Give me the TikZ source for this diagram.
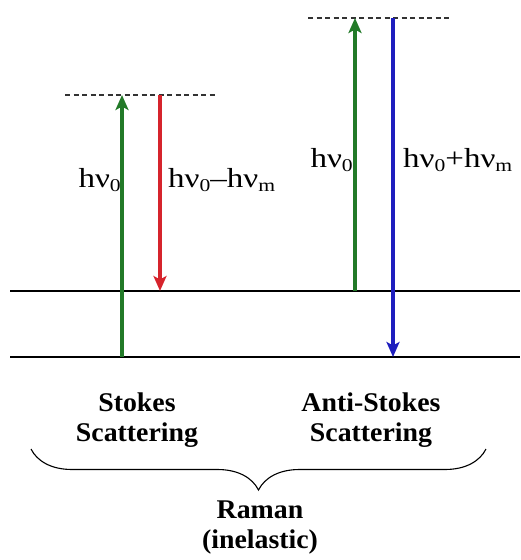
\documentclass[tikz,border=0pt]{standalone}
\usepackage{fontspec}
\setmainfont{Liberation Serif}
\usetikzlibrary{arrows.meta,decorations.pathreplacing}
\definecolor{agreen}{RGB}{34,122,40}
\definecolor{ared}{RGB}{214,36,44}
\definecolor{ablue}{RGB}{30,30,190}
\newcommand\lsub[1]{\raisebox{-0.35ex}{\fontsize{18}{18}\selectfont #1}}
\tikzset{
  level/.style={line width=2.4pt,black},
  virt/.style={line width=1.1pt,dash pattern=on 5pt off 3.5pt,black!80},
  photon/.style={line width=3.2pt,-{Stealth[length=15pt,width=13pt,inset=3.5pt]}},
  elabel/.style={font=\fontsize{27.5}{27.5}\selectfont,inner sep=0pt,xscale=1.2},
  title/.style={font=\fontsize{27}{30}\selectfont\bfseries,align=center,inner sep=0pt,xscale=1.03},
}
\begin{document}
\begin{tikzpicture}[x=1pt,y=-1pt]
\useasboundingbox (0,0) rectangle (520,560);
% levels
\coordinate (g0l) at (10,291); \coordinate (g0r) at (520,291);
\coordinate (g1l) at (10,357); \coordinate (g1r) at (520,357);
\draw[level] (g0l) -- (g0r);
\draw[level] (g1l) -- (g1r);
% Stokes
\coordinate (sv1) at (65,95); \coordinate (sv2) at (215,95);
\draw[virt] (sv1) -- (sv2);
\coordinate (sgb) at (122,357); \coordinate (sgt) at (122,95);
\coordinate (srt) at (160,95); \coordinate (srb) at (160,291);
\draw[photon,agreen] (sgb) -- (sgt);
\draw[photon,ared] (srt) -- (srb);
\node[elabel,anchor=base east] (sl1) at (121,187) {hν\lsub{0}};
\node[elabel,anchor=base west] (sl2) at (168,187) {hν\lsub{0}–hν\lsub{m}};
% Anti-Stokes
\coordinate (av1) at (308,18); \coordinate (av2) at (450,18);
\draw[virt] (av1) -- (av2);
\coordinate (agb) at (355,291); \coordinate (agt) at (355,18);
\coordinate (abt) at (393,18); \coordinate (abb) at (393,357);
\draw[photon,agreen] (agb) -- (agt);
\draw[photon,ablue] (abt) -- (abb);
\node[elabel,anchor=base east] (al1) at (353,167) {hν\lsub{0}};
\node[elabel,anchor=base west] (al2) at (403,167) {hν\lsub{0}+hν\lsub{m}};
% titles
\node[title] (st) at (137,420) {Stokes\\Scattering};
\node[title] (ast) at (371,420) {Anti-Stokes\\Scattering};
\coordinate (bl) at (31,449); \coordinate (br) at (486,449);
\draw[line width=1.1pt,decorate,decoration={brace,mirror,amplitude=41pt,aspect=0.5}] (bl) -- (br);
\node[title] (rm) at (260,528) {Raman\\(inelastic)};
\end{tikzpicture}
\end{document}
